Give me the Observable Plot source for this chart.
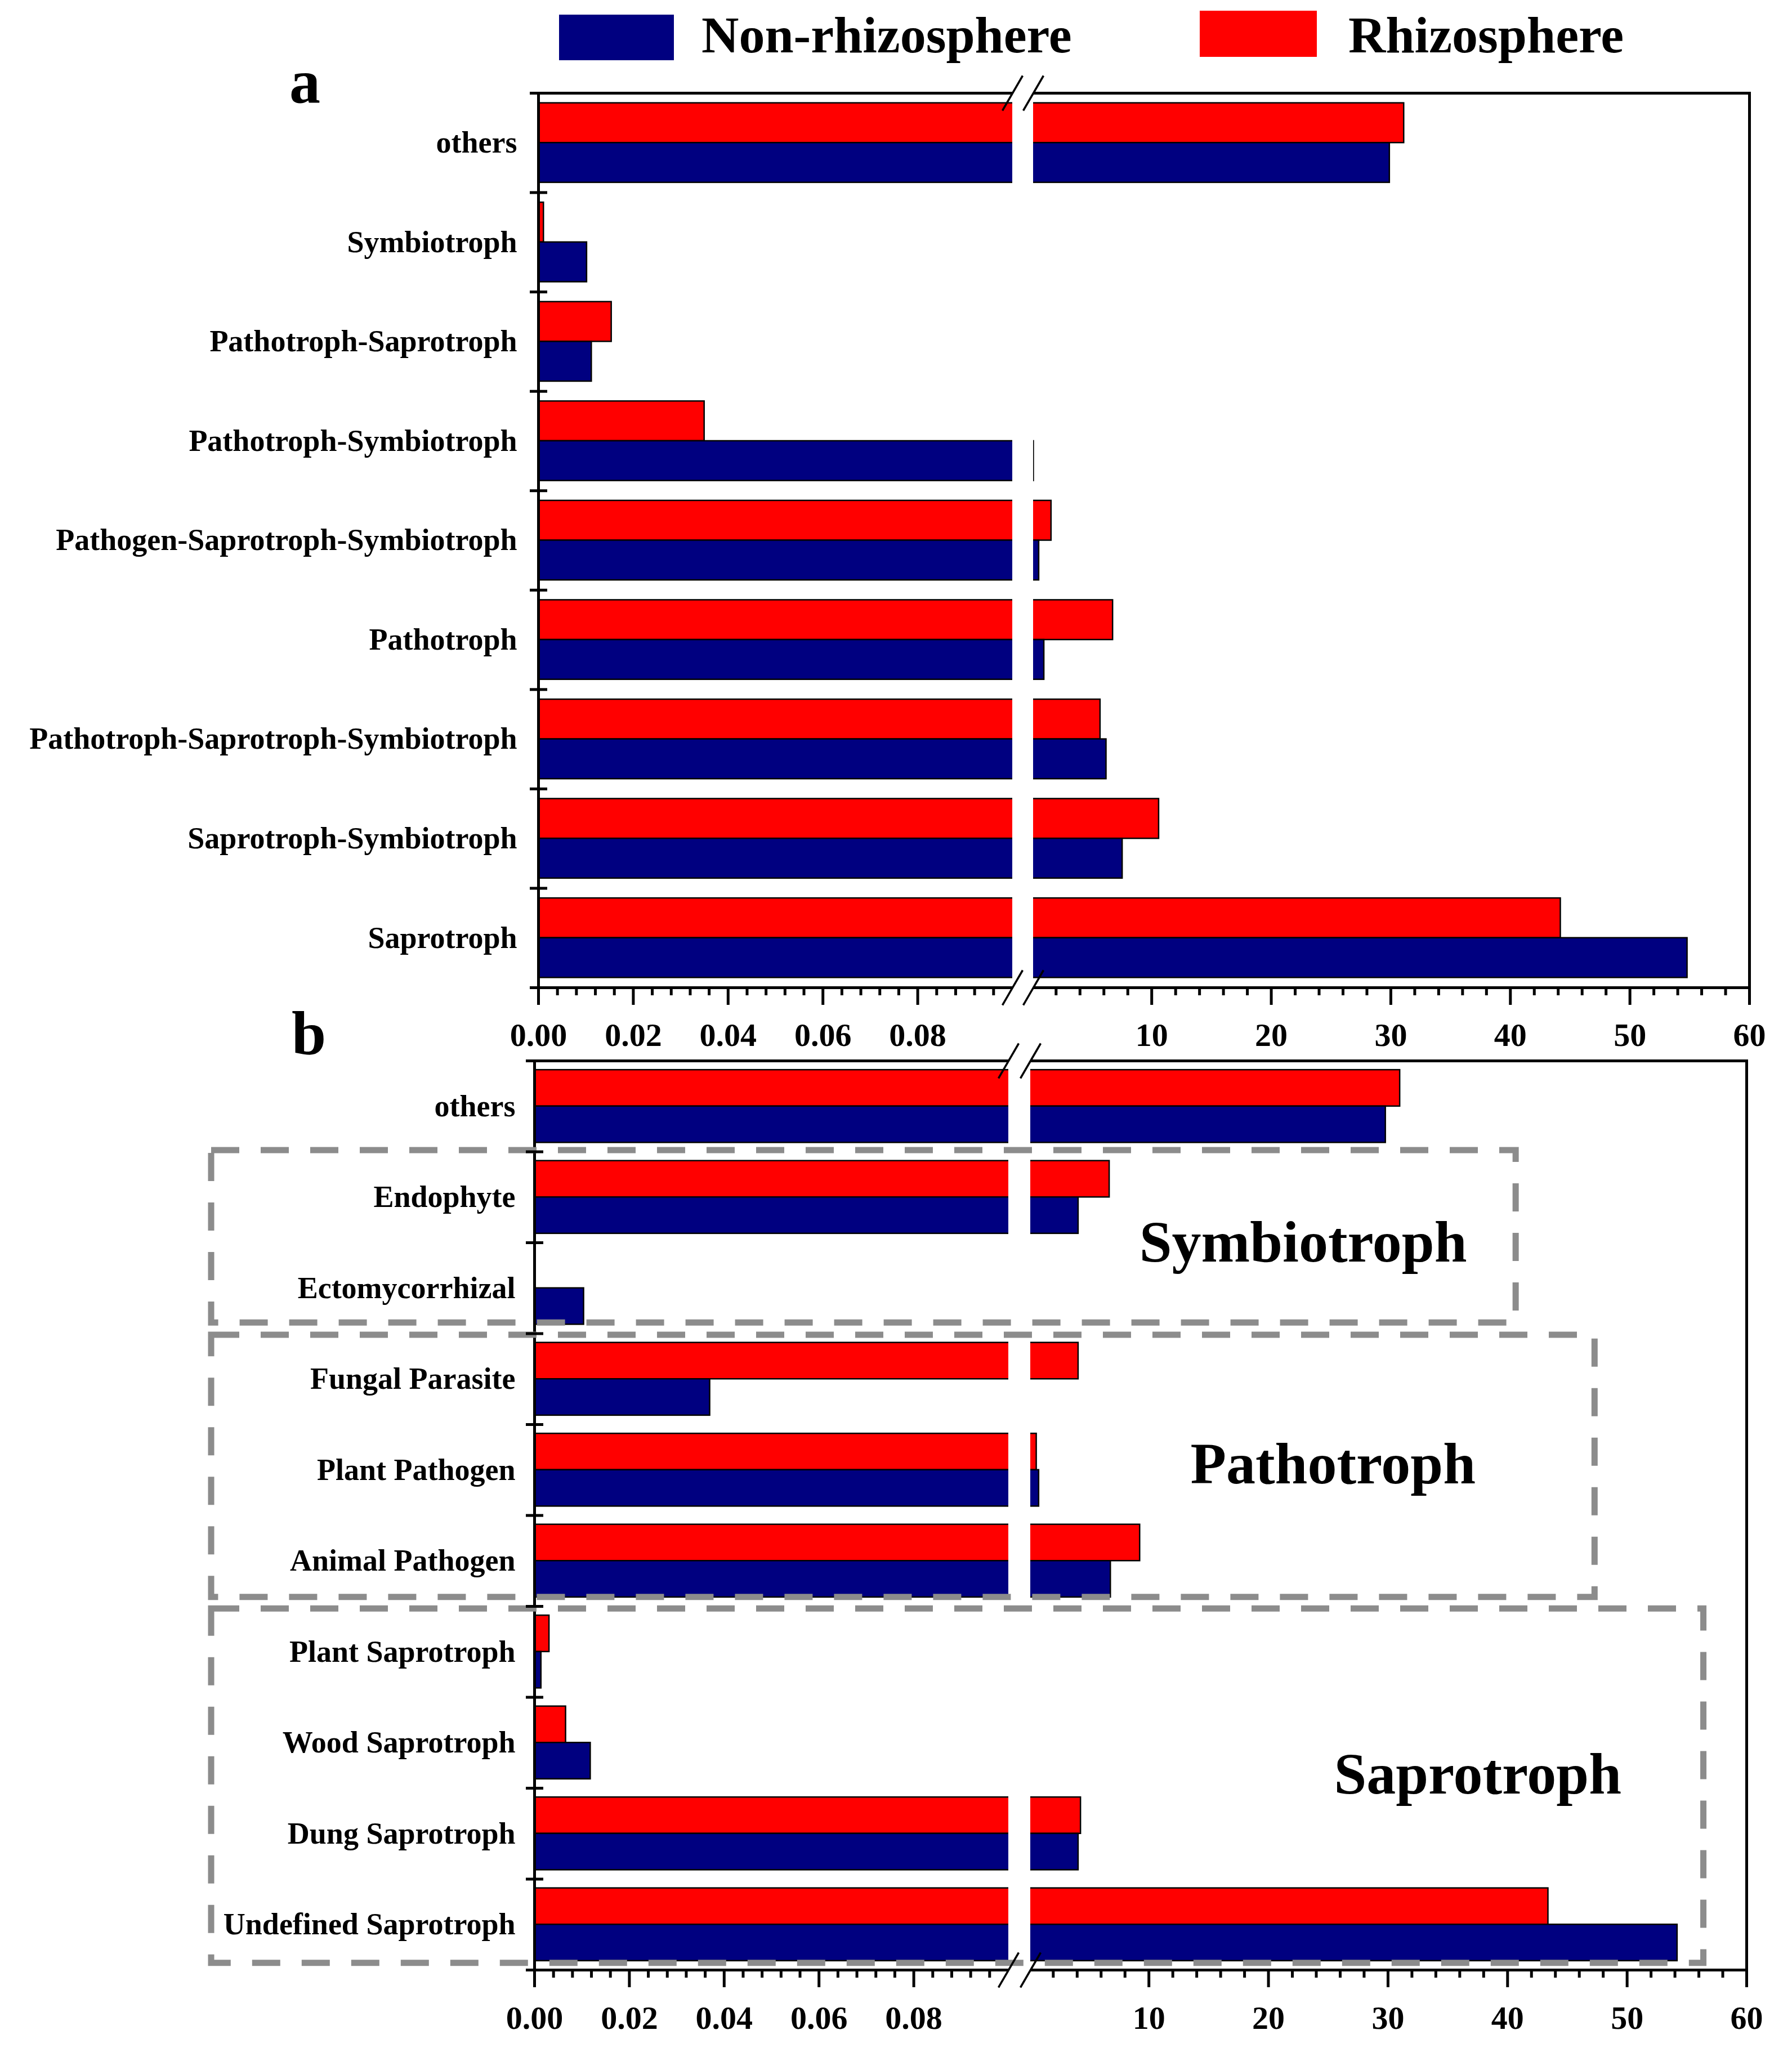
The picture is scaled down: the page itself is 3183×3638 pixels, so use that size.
<!DOCTYPE html>
<html><head><meta charset="utf-8">
<script src="https://cdn.jsdelivr.net/npm/d3@7"></script>
<script src="https://cdn.jsdelivr.net/npm/@observablehq/plot@0.6"></script>
<style>
html,body{margin:0;padding:0;background:#fff;}
#page{position:relative;width:3183px;height:3638px;overflow:hidden;font-family:"Liberation Serif","Times New Roman",serif;font-weight:bold;color:#000;}
.abs{position:absolute;left:0;width:3183px;}
.sw{position:absolute;}
.lt{position:absolute;font-size:92px;line-height:92px;white-space:nowrap;}
.pl{position:absolute;font-size:110px;line-height:110px;}
</style></head><body>
<div id="page">
  <div id="legend"></div>
  <div id="panelA" class="abs" style="top:100px"></div>
  <div id="panelB" class="abs" style="top:1800px"></div>
  <div class="pl" style="left:514px;top:90px">a</div>
  <div class="pl" style="left:518px;top:1781px">b</div>
</div>
<script>
// ---------- data ----------
const seriesNames = ["Non-rhizosphere", "Rhizosphere"];
const seriesColors = ["#000080", "#ff0000"];

const categoriesA = ["others", "Symbiotroph", "Pathotroph-Saprotroph", "Pathotroph-Symbiotroph",
  "Pathogen-Saprotroph-Symbiotroph", "Pathotroph", "Pathotroph-Saprotroph-Symbiotroph",
  "Saprotroph-Symbiotroph", "Saprotroph"];
const nonRhizoA = [29.9, 0.0102, 0.0112, 0.12, 0.57, 1.0, 6.2, 7.55, 54.8];
const rhizoA    = [31.1, 0.0011, 0.0154, 0.035, 1.6, 6.75, 5.7, 10.6, 44.2];

const categoriesB = ["others", "Endophyte", "Ectomycorrhizal", "Fungal Parasite", "Plant Pathogen",
  "Animal Pathogen", "Plant Saprotroph", "Wood Saprotroph", "Dung Saprotroph", "Undefined Saprotroph"];
const nonRhizoB = [29.8, 4.1, 0.0104, 0.037, 0.8, 6.8, 0.0014, 0.0118, 4.1, 54.2];
const rhizoB    = [31.0, 6.7, 0, 4.1, 0.6, 9.25, 0.0031, 0.0066, 4.3, 43.4];

const groupNames = ["Symbiotroph", "Pathotroph", "Saprotroph"];
const groupFirst = ["Endophyte", "Fungal Parasite", "Plant Saprotroph"];
const groupLast  = ["Ectomycorrhizal", "Animal Pathogen", "Undefined Saprotroph"];
const groupExtent = [40.7, 47.3, 56.4];
const groupLabelX = [22.9, 25.4, 37.5];

const xBreak = [0.1, 0.101];                 // axis break (left segment ends, right segment starts)
const xDomain = [0, 0.1, 0.101, 60];
const majorTicks = [0, 0.02, 0.04, 0.06, 0.08, 10, 20, 30, 40, 50, 60];
const minorTicks = [0.004, 0.008, 0.012, 0.016, 0.024, 0.028, 0.032, 0.036, 0.044, 0.048, 0.052, 0.056,
  0.064, 0.068, 0.072, 0.076, 0.084, 0.088, 0.092, 0.096,
  2, 4, 6, 8, 12, 14, 16, 18, 22, 24, 26, 28, 32, 34, 36, 38, 42, 44, 46, 48, 52, 54, 56, 58];

// ---------- legend ----------
const legend = document.getElementById("legend");
const swPos = [{l: 993, t: 26, w: 204, h: 81}, {l: 2131, t: 19, w: 208, h: 82}];
const txPos = [1246, 2395];
seriesNames.forEach((name, i) => {
  const s = document.createElement("div");
  s.className = "sw";
  Object.assign(s.style, {left: swPos[i].l + "px", top: swPos[i].t + "px", width: swPos[i].w + "px", height: swPos[i].h + "px", background: seriesColors[i]});
  legend.appendChild(s);
  const t = document.createElement("div");
  t.className = "lt";
  t.style.left = txPos[i] + "px"; t.style.top = "16px";
  t.textContent = name;
  legend.appendChild(t);
});

// ---------- chart ----------
const W = 3183;
const slash = {draw(ctx, size) { const r = Math.sqrt(size / Math.PI); ctx.moveTo(-0.58 * r, r); ctx.lineTo(0.58 * r, -r); }};
const fmt = d => d < 1 ? d.toFixed(2) : String(d);

function panel({cats, non, rhi, height, marginTop, marginBottom, xRange, labelPad, textPad, extra = () => []}) {
  const rows = cats.map((c, i) => ({cat: c, non: non[i], rhi: rhi[i]}));
  const frameH = height - marginTop - marginBottom;
  const step = frameH / cats.length;
  const bw = step * 0.8;
  const lineStyle = {stroke: "black", strokeWidth: 5, fill: "none"};
  return Plot.plot({
    width: W, height, marginTop, marginBottom,
    marginLeft: xRange[0], marginRight: W - xRange[3],
    style: {background: "transparent", fontFamily: "Liberation Serif, Times New Roman, serif", fontWeight: "bold", color: "black", overflow: "visible"},
    x: {type: "linear", domain: xDomain, range: xRange, label: null},
    y: {type: "band", domain: cats, paddingInner: 0.2, paddingOuter: 0.1, round: false, label: null},
    marks: [
      Plot.barX(rows, {x1: 0, x2: "rhi", y: "cat", fill: seriesColors[1], stroke: "black", strokeWidth: 2.5, insetBottom: bw / 2}),
      Plot.barX(rows, {x1: 0, x2: "non", y: "cat", fill: seriesColors[0], stroke: "black", strokeWidth: 2.5, insetTop: bw / 2}),
      Plot.frame({stroke: "black", strokeWidth: 5}),
      Plot.rect([0], {x1: xBreak[0], x2: xBreak[1], fill: "white", insetTop: -9, insetBottom: -9}),
      ...extra(step, bw),
      Plot.dot(xBreak, {x: d => d, frameAnchor: "top", symbol: slash, r: 31, stroke: "black", strokeWidth: 3.5, fill: "none"}),
      Plot.dot(xBreak, {x: d => d, frameAnchor: "bottom", symbol: slash, r: 31, stroke: "black", strokeWidth: 3.5, fill: "none"}),
      Plot.axisX({ticks: majorTicks, tickSize: 31, ...lineStyle, label: null}),
      Plot.axisX({ticks: minorTicks, tickSize: 14, ...lineStyle, label: null}),
      Plot.axisX({ticks: majorTicks, tickSize: 0, tickPadding: textPad, tickFormat: fmt, fontSize: 58, fill: "black", label: null}),
      Plot.axisY({ticks: cats, tickSize: 31, dx: 16, dy: -step / 2, ...lineStyle, label: null}),
      Plot.axisY({ticks: [cats[cats.length - 1]], tickSize: 31, dx: 16, dy: step / 2, ...lineStyle, label: null}),
      Plot.axisY({ticks: cats, tickSize: 0, tickPadding: labelPad, fontSize: 54, fill: "black", label: null})
    ]
  });
}

document.getElementById("panelA").appendChild(panel({
  cats: categoriesA, non: nonRhizoA, rhi: rhizoA,
  height: 1780, marginTop: 65, marginBottom: 126,
  xRange: [956, 1798, 1835, 3107], labelPad: 38, textPad: 62
}));

const groups = groupNames.map((g, i) => ({name: g, first: groupFirst[i], last: groupLast[i], extent: groupExtent[i], lx: groupLabelX[i]}));
const boxPad = [[18.6, 3], [13.6, 0], [12, -4]];   // top outset, bottom trim (px)
const labelAt = [["Ectomycorrhizal", -0.5], ["Plant Pathogen", -0.056], ["Wood Saprotroph", 0.353]]; // category, offset in steps

document.getElementById("panelB").appendChild(panel({
  cats: categoriesB, non: nonRhizoB, rhi: rhizoB,
  height: 1838, marginTop: 84, marginBottom: 139,
  xRange: [949, 1791, 1830, 3102], labelPad: 34, textPad: 63,
  extra: (step, bw) => groups.flatMap((g, i) => [
    Plot.rect([g], {x1: 0, x2: "extent", y1: "first", y2: "last",
      insetLeft: -(949 - 375), insetTop: -boxPad[i][0], insetBottom: boxPad[i][1],
      fill: "none", stroke: "#8c8c8c", strokeWidth: 11, strokeDasharray: "50,38"}),
    Plot.text([g], {x: "lx", y: () => labelAt[i][0], text: "name", dy: labelAt[i][1] * step,
      fontSize: 104, fontWeight: "bold", fill: "black", textAnchor: "middle"})
  ])
}));
</script>
</body></html>
